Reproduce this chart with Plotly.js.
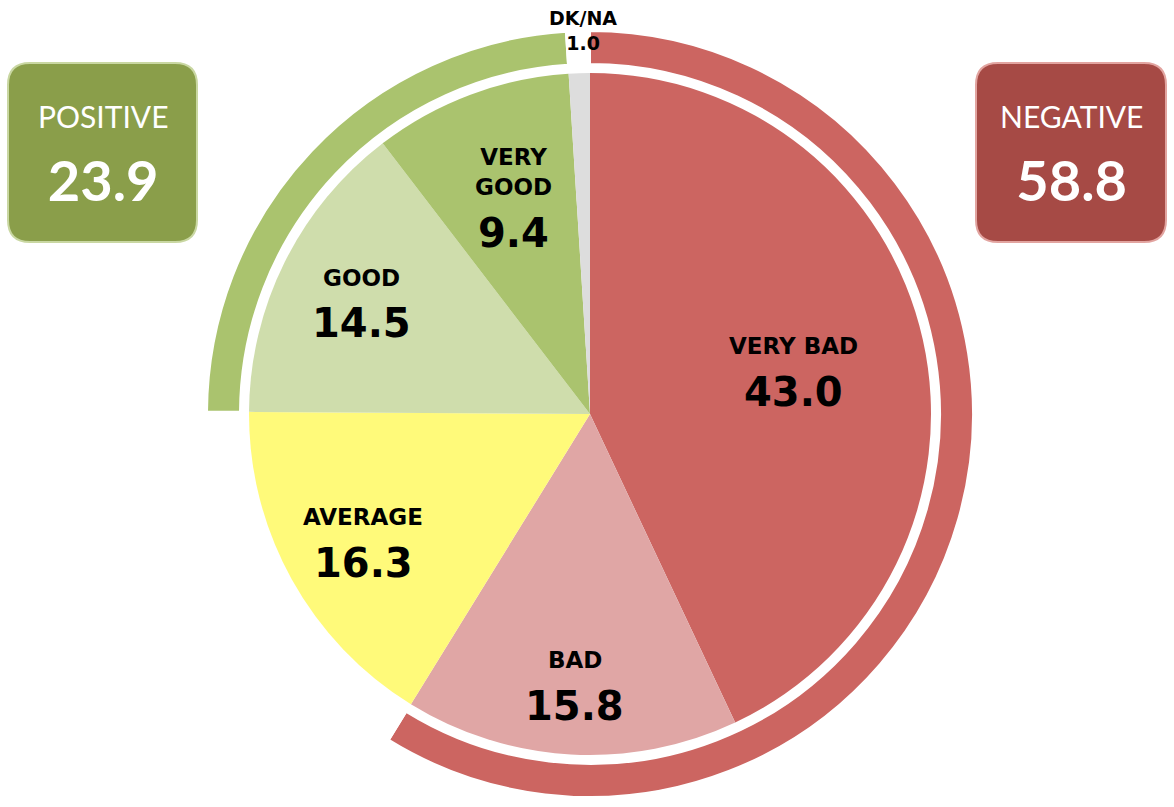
<!DOCTYPE html>
<html>
<head>
<meta charset="utf-8">
<script src="https://cdn.plot.ly/plotly-3.0.1.min.js"></script>
<style>html,body{margin:0;padding:0;background:#fff}#chart{width:1174px;height:807px}</style>
</head>
<body>
<div id="chart"></div>
<script>
// ---- data ----
const categories = ['VERY BAD', 'BAD', 'AVERAGE', 'GOOD', 'VERY GOOD', 'DK/NA'];
const values = [43.0, 15.8, 16.3, 14.5, 9.4, 1.0];
const groupLabels = ['NEGATIVE', 'AVERAGE', 'POSITIVE', 'DK/NA'];
const groupValues = [58.8, 16.3, 23.9, 1.0];
const summaryLabels = ['POSITIVE', 'NEGATIVE'];
const summaryValues = [23.9, 58.8];

// ---- styles / layout ----
const sliceColors = ['#CC6561', '#E0A6A5', '#FFFA7A', '#CFDDAC', '#AAC36E', '#DDDDDD'];
const ringColors = ['#CC6561', 'rgba(0,0,0,0)', '#AAC36E', 'rgba(0,0,0,0)'];
const labelRadius = [0.61, 0.79, 0.76, 0.75, 0.64, 0];   // fraction of pie radius for label placement
const W = 1174, H = 807;
const CX = 590, CY = 414, R_PIE = 341, R_RING = 383, R_RING_IN = 350;
const BOX_FONT = 'Lato, "Noto Sans", sans-serif';
const LBL_FONT = '"DejaVu Sans", sans-serif';
const px = x => x / W;
const py = y => 1 - y / H;

const pie = {
  type: 'pie',
  labels: categories,
  values: values,
  sort: false,
  direction: 'clockwise',
  rotation: 0,
  marker: { colors: sliceColors, line: { width: 0 } },
  textinfo: 'none',
  hoverinfo: 'skip',
  showlegend: false,
  domain: { x: [px(CX - R_PIE), px(CX + R_PIE)], y: [py(CY + R_PIE), py(CY - R_PIE)] }
};

const ring = {
  type: 'pie',
  labels: groupLabels,
  values: groupValues,
  sort: false,
  direction: 'clockwise',
  rotation: 0,
  hole: R_RING_IN / R_RING,
  marker: { colors: ringColors, line: { width: 2, color: '#fff' } },
  textinfo: 'none',
  hoverinfo: 'skip',
  showlegend: false,
  domain: { x: [px(CX - R_RING), px(CX + R_RING)], y: [py(CY + R_RING), py(CY - R_RING)] }
};

function roundRect(x0, y0, x1, y1, r) {
  const rx = r / W, ry = r / H;
  const X0 = px(x0), X1 = px(x1), Y0 = py(y0), Y1 = py(y1);
  return `M${X0 + rx},${Y0} L${X1 - rx},${Y0} Q${X1},${Y0} ${X1},${Y0 - ry} ` +
         `L${X1},${Y1 + ry} Q${X1},${Y1} ${X1 - rx},${Y1} L${X0 + rx},${Y1} ` +
         `Q${X0},${Y1} ${X0},${Y1 + ry} L${X0},${Y0 - ry} Q${X0},${Y0} ${X0 + rx},${Y0} Z`;
}

const boxes = [
  { x0: 8, x1: 197, fill: '#8A9E4A', line: '#C9D7A2' },
  { x0: 976, x1: 1166, fill: '#A64A45', line: '#E2A4A0' }
];

const shapes = boxes.map(b => ({
  type: 'path', xref: 'paper', yref: 'paper',
  path: roundRect(b.x0, 63, b.x1, 242, 22),
  fillcolor: b.fill, line: { color: b.line, width: 2 }, layer: 'above'
}));

const annotations = boxes.map((b, i) => ({
  xref: 'paper', yref: 'paper',
  x: px((b.x0 + b.x1) / 2), y: py(155),
  xanchor: 'center', yanchor: 'middle',
  showarrow: false,
  text: '<span style="font-size:30px">' + summaryLabels[i] + '</span><br><b>' + summaryValues[i].toFixed(1) + '</b>',
  font: { family: BOX_FONT, size: 56, color: '#fff' }
}));

// slice labels placed along each slice's mid-angle (derived from the values)
const total = values.reduce((a, b) => a + b, 0);
let cum = 0;
values.forEach((v, i) => {
  const mid = (cum + v / 2) / total * 2 * Math.PI;
  cum += v;
  if (categories[i] === 'DK/NA') return;
  const f = labelRadius[i];
  const x = CX + f * R_PIE * Math.sin(mid);
  const yc = CY - f * R_PIE * Math.cos(mid);
  const lbl = categories[i] === 'VERY GOOD' ? 'VERY<br>GOOD' : categories[i];
  const nLines = lbl.split('<br>').length;
  annotations.push({
    xref: 'paper', yref: 'paper', x: px(x), y: py(yc - 22.5 - (nLines - 1) * 15),
    xanchor: 'center', yanchor: 'middle', showarrow: false,
    text: '<b>' + lbl + '</b>',
    font: { family: LBL_FONT, size: 23, color: '#000' }
  });
  annotations.push({
    xref: 'paper', yref: 'paper', x: px(x), y: py(yc + 23),
    xanchor: 'center', yanchor: 'middle', showarrow: false,
    text: '<b>' + v.toFixed(1) + '</b>',
    font: { family: LBL_FONT, size: 40, color: '#000' }
  });
});

annotations.push({
  xref: 'paper', yref: 'paper',
  x: px(CX - 7), y: py(30),
  xanchor: 'center', yanchor: 'middle',
  showarrow: false,
  text: '<b>' + categories[5] + '<br>' + values[5].toFixed(1) + '</b>',
  font: { family: LBL_FONT, size: 19, color: '#000' }
});

const layout = {
  width: W, height: H,
  margin: { l: 0, r: 0, t: 0, b: 0 },
  paper_bgcolor: '#fff',
  plot_bgcolor: '#fff',
  shapes: shapes,
  annotations: annotations,
  showlegend: false
};

Plotly.newPlot('chart', [ring, pie], layout, { staticPlot: true, displayModeBar: false });
</script>
</body>
</html>
